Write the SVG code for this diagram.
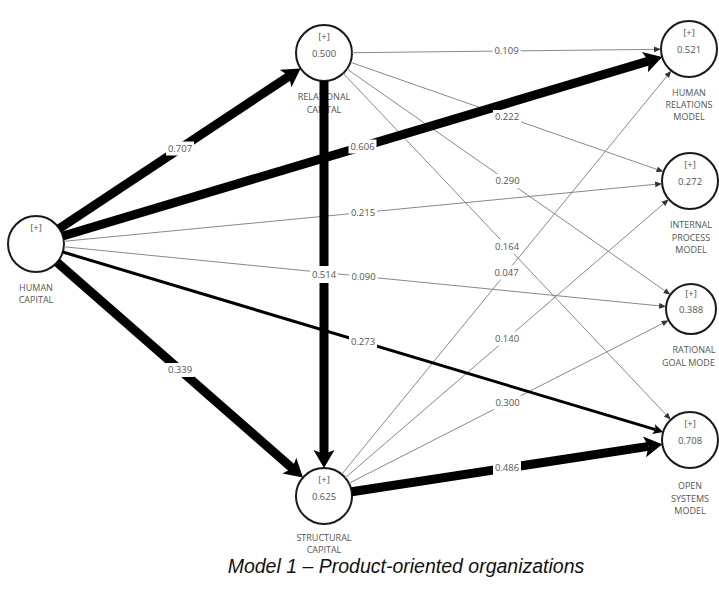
<svg xmlns="http://www.w3.org/2000/svg" width="719" height="596" viewBox="0 0 719 596">
<style>
.node circle{fill:#fff;stroke:#1a1a1a;stroke-width:2}
.in{font-family:"Open Sans","Noto Sans",sans-serif;font-size:9.5px;fill:#555;text-anchor:middle}
.lbl{font-family:"Open Sans","Noto Sans",sans-serif;font-size:9px;fill:#555;text-anchor:middle}
.thin{stroke:#888;stroke-width:1;fill:none;marker-end:url(#aThin)}
.med{stroke:#000;stroke-width:3;fill:none;marker-end:url(#aMed)}
.thick{stroke:#000;stroke-width:9;fill:none;marker-end:url(#aThick)}
.bx{fill:#fff}
.ev{font-family:"Open Sans","Noto Sans",sans-serif;font-size:9.5px;fill:#555;text-anchor:middle}
.cap{font-family:"Liberation Sans",Arial,sans-serif;font-size:19.5px;font-style:italic;fill:#111;text-anchor:middle}
</style>
<defs>
<marker id="aThin" markerUnits="userSpaceOnUse" markerWidth="10" markerHeight="10" refX="0" refY="0" viewBox="0 -5 10 10" orient="auto" overflow="visible"><path d="M0,-2.8 L7,0 L0,2.8 Z" fill="#333"/></marker>
<marker id="aMed" markerUnits="userSpaceOnUse" markerWidth="12" markerHeight="12" refX="2" refY="0" viewBox="0 -6 12 12" orient="auto" overflow="visible"><path d="M0,-5 L10,0 L0,5 L2,0 Z" fill="#000"/></marker>
<marker id="aThick" markerUnits="userSpaceOnUse" markerWidth="20" markerHeight="22" refX="4" refY="0" viewBox="0 -11 20 22" orient="auto" overflow="visible"><path d="M0,-10.5 L18,0 L0,10.5 L4,0 Z" fill="#000"/></marker>
</defs>
<rect width="719" height="596" fill="#fff"/>

<g id="node-human-capital" class="node">
<circle cx="36" cy="244" r="28"/>
<text class="in" x="36" y="231">[+]</text>
<text class="lbl" x="36" y="291">HUMAN</text>
<text class="lbl" x="36" y="303">CAPITAL</text>
</g>
<g id="node-relational-capital" class="node">
<circle cx="324" cy="53" r="28"/>
<text class="in" x="324" y="40">[+]</text>
<text class="in" x="324" y="56.5">0.500</text>
<text class="lbl" x="324" y="100">RELATIONAL</text>
<text class="lbl" x="324" y="113">CAPITAL</text>
</g>
<g id="node-structural-capital" class="node">
<circle cx="324" cy="496" r="28"/>
<text class="in" x="324" y="483">[+]</text>
<text class="in" x="324" y="499.5">0.625</text>
<text class="lbl" x="324" y="541">STRUCTURAL</text>
<text class="lbl" x="324" y="553">CAPITAL</text>
</g>
<g id="node-human-relations" class="node">
<circle cx="689" cy="49" r="28"/>
<text class="in" x="689" y="36">[+]</text>
<text class="in" x="689" y="52.5">0.521</text>
<text class="lbl" x="689" y="96">HUMAN</text>
<text class="lbl" x="689" y="108">RELATIONS</text>
<text class="lbl" x="689" y="120">MODEL</text>
</g>
<g id="node-internal-process" class="node">
<circle cx="690" cy="181" r="28"/>
<text class="in" x="690" y="168">[+]</text>
<text class="in" x="690" y="184.5">0.272</text>
<text class="lbl" x="691" y="228">INTERNAL</text>
<text class="lbl" x="691" y="240.5">PROCESS</text>
<text class="lbl" x="691" y="253">MODEL</text>
</g>
<g id="node-rational-goal" class="node">
<circle cx="691" cy="309" r="25"/>
<text class="in" x="691" y="297">[+]</text>
<text class="in" x="691" y="312.5">0.388</text>
<text class="lbl" x="694" y="353">RATIONAL</text>
<text class="lbl" x="662" y="366" style="text-anchor:start">GOAL MODE</text>
</g>
<g id="node-open-systems" class="node">
<circle cx="690" cy="440" r="28"/>
<text class="in" x="690" y="427">[+]</text>
<text class="in" x="690" y="443.5">0.708</text>
<text class="lbl" x="690" y="489">OPEN</text>
<text class="lbl" x="690" y="501.5">SYSTEMS</text>
<text class="lbl" x="690" y="514">MODEL</text>
</g>

<g id="connectors">
<path class="thin" d="M63.87,241.32 L655.16,184.35"/>
<path class="thin" d="M63.86,246.77 L659.15,305.84"/>
<path class="thin" d="M352,52.69 L654,49.38"/>
<path class="thin" d="M350.43,62.24 L656.96,169.45"/>
<path class="thin" d="M346.97,69.02 L664.76,290.7"/>
<path class="thin" d="M343.24,73.34 L665.95,414.57"/>
<path class="thin" d="M341.71,474.31 L666.86,76.11"/>
<path class="thin" d="M345.22,477.74 L663.47,203.83"/>
<path class="thin" d="M348.95,483.29 L662.48,323.53"/>
<path class="med" d="M62.82,252.04 L655.52,429.66"/>
<path class="thick" d="M59.34,228.52 L288.99,76.22"/>
<path class="thick" d="M62.83,235.99 L648.76,61.02"/>
<path class="thick" d="M57.07,262.44 L292.39,468.34"/>
<path class="thick" d="M324,81 L324,454"/>
<path class="thick" d="M351.68,491.77 L648.48,446.35"/>
<g id="edge-labels">
<rect class="bx" x="166" y="141.5" width="28" height="14"/><text class="ev" x="180" y="151.5">0.707</text>
<rect class="bx" x="348.5" y="139.5" width="28" height="14"/><text class="ev" x="362.5" y="149.5">0.606</text>
<rect class="bx" x="349" y="205.5" width="28" height="14"/><text class="ev" x="363" y="215.5">0.215</text>
<rect class="bx" x="349.5" y="269.5" width="28" height="14"/><text class="ev" x="363.5" y="279.5">0.090</text>
<rect class="bx" x="349" y="335" width="28" height="14"/><text class="ev" x="363" y="345">0.273</text>
<rect class="bx" x="166" y="363" width="28" height="14"/><text class="ev" x="180" y="373">0.339</text>
<rect class="bx" x="310" y="266" width="28" height="17"/><text class="ev" x="324" y="277.5">0.514</text>
<rect class="bx" x="492.5" y="44" width="28" height="14"/><text class="ev" x="506.5" y="54">0.109</text>
<rect class="bx" x="493" y="110" width="28" height="14"/><text class="ev" x="507" y="120">0.222</text>
<rect class="bx" x="493.5" y="174" width="28" height="14"/><text class="ev" x="507.5" y="184">0.290</text>
<rect class="bx" x="493" y="239.5" width="28" height="14"/><text class="ev" x="507" y="249.5">0.164</text>
<rect class="bx" x="492.5" y="265.5" width="28" height="14"/><text class="ev" x="506.5" y="275.5">0.047</text>
<rect class="bx" x="493" y="331.5" width="28" height="14"/><text class="ev" x="507" y="341.5">0.140</text>
<rect class="bx" x="493.5" y="395.5" width="28" height="14"/><text class="ev" x="507.5" y="405.5">0.300</text>
<rect class="bx" x="493" y="460" width="28" height="16"/><text class="ev" x="507" y="471">0.486</text>
</g>
</g>

<text class="cap" x="406" y="573">Model 1 – Product-oriented organizations</text>
</svg>
